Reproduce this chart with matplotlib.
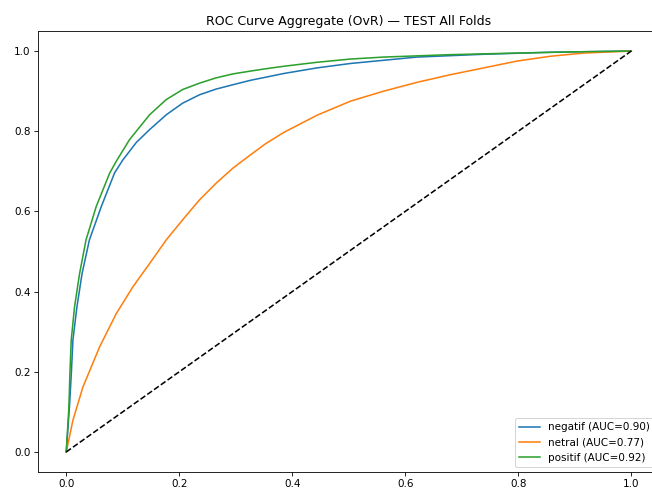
import matplotlib
matplotlib.use("Agg")
import matplotlib.pyplot as plt

# ROC points (aggregate over all test folds)
fpr_negatif = [0.0, 0.006, 0.009, 0.0118, 0.0189, 0.028, 0.041, 0.062, 0.0855, 0.100,
               0.124, 0.1475, 0.177, 0.206, 0.236, 0.265, 0.295, 0.326, 0.354, 0.385,
               0.444, 0.503, 0.562, 0.621, 0.739, 0.857, 1.0]
tpr_negatif = [0.0, 0.120, 0.196, 0.279, 0.362, 0.445, 0.529, 0.612, 0.696, 0.728,
               0.772, 0.804, 0.841, 0.870, 0.891, 0.905, 0.916, 0.927, 0.935, 0.944,
               0.958, 0.969, 0.977, 0.985, 0.992, 0.997, 1.0]

fpr_netral = [0.0, 0.0118, 0.0295, 0.059, 0.0885, 0.118, 0.1475, 0.177, 0.206, 0.236,
              0.265, 0.295, 0.326, 0.354, 0.385, 0.444, 0.503, 0.562, 0.621, 0.680,
              0.739, 0.798, 0.857, 0.916, 1.0]
tpr_netral = [0.0, 0.079, 0.162, 0.262, 0.345, 0.412, 0.470, 0.529, 0.579, 0.629,
              0.670, 0.708, 0.741, 0.770, 0.797, 0.840, 0.875, 0.900, 0.922, 0.941,
              0.958, 0.975, 0.987, 0.995, 1.0]

fpr_positif = [0.0, 0.0047, 0.0065, 0.0088, 0.0147, 0.0236, 0.035, 0.053, 0.077, 0.0885,
               0.112, 0.1475, 0.177, 0.206, 0.236, 0.265, 0.295, 0.326, 0.354, 0.385,
               0.444, 0.503, 0.562, 0.680, 0.798, 0.900, 1.0]
tpr_positif = [0.0, 0.112, 0.196, 0.279, 0.362, 0.445, 0.529, 0.612, 0.696, 0.725,
               0.779, 0.841, 0.879, 0.904, 0.920, 0.933, 0.943, 0.950, 0.956, 0.962,
               0.972, 0.980, 0.985, 0.991, 0.995, 0.998, 1.0]

class_names = ["negatif", "netral", "positif"]
auc_values = [0.90, 0.77, 0.92]

# screenshot was scaled down, so shrink the default sizes to match
scale = 0.75
plt.rcParams.update({
    "font.size": 10 * scale,
    "lines.linewidth": 1.5 * scale,
    "axes.linewidth": 0.8 * scale,
    "xtick.major.size": 3.5 * scale,
    "ytick.major.size": 3.5 * scale,
    "xtick.major.width": 0.8 * scale,
    "ytick.major.width": 0.8 * scale,
    "xtick.major.pad": 3.5 * scale,
    "ytick.major.pad": 3.5 * scale,
    "patch.linewidth": 1.0 * scale,
})

fig = plt.figure(figsize=(6.52, 4.88), dpi=100)
# axes runs past the right edge, like the cropped original
ax = fig.add_axes([38 / 652, 16 / 488, 621.5 / 652, 441 / 488])

curves = [(fpr_negatif, tpr_negatif), (fpr_netral, tpr_netral), (fpr_positif, tpr_positif)]
for (fpr, tpr), name, auc in zip(curves, class_names, auc_values):
    ax.plot(fpr, tpr, label=f"{name} (AUC={auc:.2f})")

ax.plot([0, 1], [0, 1], "k--")
ax.set_title("ROC Curve Aggregate (OvR) — TEST All Folds", fontsize=12 * scale, pad=6 * scale)
ax.legend(loc="lower right")

fig.savefig("out.png", dpi=100)
